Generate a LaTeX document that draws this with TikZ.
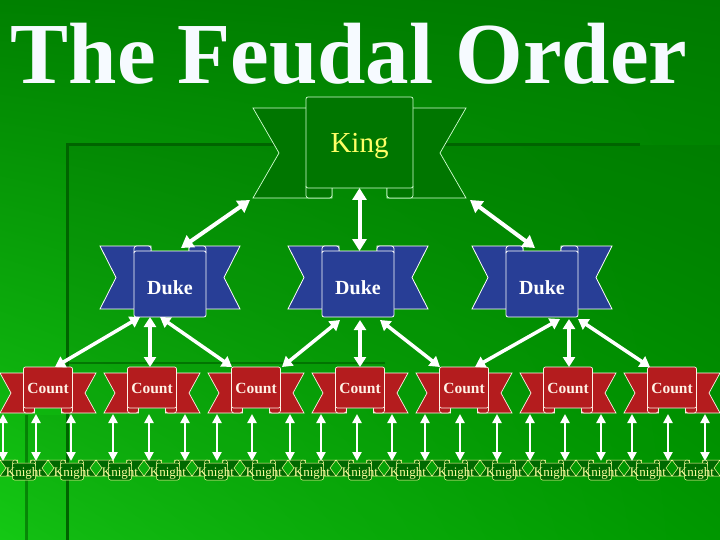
\documentclass[tikz,border=0pt]{standalone}
\usepackage{fontspec}
\setmainfont{Liberation Serif}
\usetikzlibrary{arrows.meta,calc,shadings}
\definecolor{bgUL}{RGB}{0,128,0}
\definecolor{bgUR}{RGB}{0,122,0}
\definecolor{bgLL}{RGB}{20,200,20}
\definecolor{bgLR}{RGB}{0,160,0}
\definecolor{edgeDark}{RGB}{0,100,0}
\definecolor{kingFill}{RGB}{0,118,0}
\definecolor{kingLine}{RGB}{210,255,210}
\definecolor{kingText}{RGB}{255,255,102}
\definecolor{dukeFill}{RGB}{40,62,150}
\definecolor{countFill}{RGB}{180,28,30}
\definecolor{countText}{RGB}{255,242,230}
\definecolor{knightFill}{RGB}{0,105,0}
\definecolor{knightLine}{RGB}{255,255,160}
\definecolor{titleText}{RGB}{246,250,255}

\newcommand\setdims[8]{\def\ra{#1}\def\rtw{#2}\def\rd{#3}\def\rc{#4}\def\ryT{#5}\def\ryB{#6}\def\rtT{#7}\def\rtB{#8}}
\newcommand\ribtails[1]{%
  \filldraw[ribstyle] ({#1-\ra-\rtw},\rtT) -- ({#1-\ra+\rc},\rtT) -- ({#1-\ra+\rc},\rtB) -- ({#1-\ra-\rtw},\rtB) -- ({#1-\ra-\rtw+\rd},{(\rtT+\rtB)/2}) -- cycle;
  \filldraw[ribstyle] ({#1+\ra+\rtw},\rtT) -- ({#1+\ra-\rc},\rtT) -- ({#1+\ra-\rc},\rtB) -- ({#1+\ra+\rtw},\rtB) -- ({#1+\ra+\rtw-\rd},{(\rtT+\rtB)/2}) -- cycle;
}
\newcommand\ribdown[3]{%
  \ribtails{#2}
  \filldraw[ribstyle, rounded corners=2.5pt] ({#2-\ra},{\ryB-4}) rectangle ({#2-\ra+\rc},\rtB);
  \filldraw[ribstyle, rounded corners=2.5pt] ({#2+\ra-\rc},{\ryB-4}) rectangle ({#2+\ra},\rtB);
  \node[ribpanel, minimum width=2*\ra pt, minimum height=(\ryB-\ryT)*1pt] (#1) at ({#2},{(\ryT+\ryB)/2}) {\makebox[0pt]{#3}};
}
\newcommand\ribup[3]{%
  \ribtails{#2}
  \filldraw[ribstyle, rounded corners=2.5pt] ({#2-\ra},\rtT) rectangle ({#2-\ra+\rc},{\ryT+4});
  \filldraw[ribstyle, rounded corners=2.5pt] ({#2+\ra-\rc},\rtT) rectangle ({#2+\ra},{\ryT+4});
  \node[ribpanel, minimum width=2*\ra pt, minimum height=(\ryB-\ryT)*1pt] (#1) at ({#2},{(\ryT+\ryB)/2}) {\makebox[0pt]{#3}};
}

\tikzset{
  ribpanel/.style={ribstyle, ribtext, rounded corners=2pt, inner sep=0pt, outer sep=0pt, text depth=0pt},
  kingrib/.style={fill=kingFill, draw=kingLine, line width=0.7pt},
  kingtxt/.style={font=\fontsize{29}{29}\selectfont, text=kingText, text height=21pt},
  dukerib/.style={fill=dukeFill, draw=white, line width=0.8pt},
  duketxt/.style={font=\fontsize{20}{20}\selectfont\bfseries, text=white, text height=20pt},
  countrib/.style={fill=countFill, draw=countText, line width=0.7pt},
  counttxt/.style={font=\fontsize{15.5}{15.5}\selectfont\bfseries, text=countText, text height=11pt},
  knightrib/.style={fill=knightFill, draw=knightLine, line width=0.5pt},
  knighttxt/.style={font=\fontsize{13}{13}\selectfont, text=knightLine, text height=9pt},
  arrowA/.style={draw=white, line width=4pt, {Triangle[width=14pt,length=12pt]}-{Triangle[width=14pt,length=12pt]}},
  arrowB/.style={draw=white, line width=3.5pt, {Triangle[width=12pt,length=10pt]}-{Triangle[width=12pt,length=10pt]}},
  arrowK/.style={draw=white, line width=2.8pt, {Triangle[width=9pt,length=9pt]}-{Triangle[width=9pt,length=9pt]}},
  titletxt/.style={font=\fontsize{87}{87}\selectfont\bfseries, anchor=base, inner sep=0pt}
}

\begin{document}
\begin{tikzpicture}[x=1pt,y=-1pt]
\useasboundingbox (0,0) rectangle (720,540);
\clip (0,0) rectangle (720,540);
% background
\shade[upper left=bgUL, upper right=bgUR, lower left=bgLL, lower right=bgLR] (0,0) rectangle (720,540);
\fill[black, opacity=0.05] (67,145) rectangle (720,540);
\fill[black, opacity=0.04] (26,415) rectangle (67,540);
\draw[edgeDark, line width=3pt] (67,540) -- (67,145) -- (640,145);
\draw[edgeDark, line width=2pt, opacity=0.7] (67,363) -- (385,363);
\draw[edgeDark, line width=3pt, opacity=0.6] (26,415) -- (26,540);

% title
\node[titletxt, text=titleText] (title) at (349,84) {The Feudal Order};

% King
\tikzset{ribstyle/.style={kingrib}, ribtext/.style={kingtxt}}
\setdims{53.5}{53}{26}{26}{97}{188}{108}{198}
\ribdown{king}{359.5}{King}

% Dukes
\tikzset{ribstyle/.style={dukerib}, ribtext/.style={duketxt}}
\setdims{36}{34}{16}{17}{251}{317}{246}{309}
\ribup{duke1}{170}{Duke}
\ribup{duke2}{358}{Duke}
\ribup{duke3}{542}{Duke}

% Counts
\tikzset{ribstyle/.style={countrib}, ribtext/.style={counttxt}}
\setdims{24.5}{23.5}{11}{11}{367}{408}{373}{413}
\foreach \i in {1,...,7}{
  \ribdown{count\i}{48+104*(\i-1)}{Count}
}

% Knights
\tikzset{ribstyle/.style={knightrib}, ribtext/.style={knighttxt}}
\setdims{11.5}{12.5}{6}{5}{463}{480}{460}{476}
\foreach \i in {0,...,14}{
  \ribup{knight\i}{24+48*\i}{Knight}
}

% arrow end points
\coordinate (kL) at (250,200);
\coordinate (kR) at (470,200);
\coordinate (d1T) at (181,248);
\coordinate (d3T) at (535,248);

% King - Dukes
\draw[arrowA] (kL) -- (d1T);
\draw[arrowA] (king.south) -- (king.south |- duke2.north);
\draw[arrowA] (kR) -- (d3T);

% Dukes - Counts
\draw[arrowB] ([xshift=-30pt]duke1.south) -- ([xshift=7pt]count1.north);
\draw[arrowB] ([xshift=-20pt]duke1.south) -- ([xshift=-20pt]duke1.south |- count2.north);
\draw[arrowB] ([xshift=-10pt]duke1.south) -- ([xshift=-24pt]count3.north);
\draw[arrowB] ([xshift=-18pt,yshift=-3pt]duke2.south) -- ([xshift=26pt]count3.north);
\draw[arrowB] ([xshift=2pt,yshift=-3pt]duke2.south) -- ([xshift=2pt]duke2.south |- count4.north);
\draw[arrowB] ([xshift=22pt,yshift=-3pt]duke2.south) -- ([xshift=-24pt]count5.north);
\draw[arrowB] ([xshift=18pt,yshift=-2pt]duke3.south) -- ([xshift=11pt]count5.north);
\draw[arrowB] ([xshift=27pt,yshift=-2pt]duke3.south) -- ([xshift=27pt]duke3.south |- count6.north);
\draw[arrowB] ([xshift=36pt,yshift=-2pt]duke3.south) -- ([xshift=-22pt]count7.north);

% Counts - Knights
\foreach \x in {3,36,71,113,149,185,217,252,290,321,357,392,425,460,497,530,565,601,632,668,705}{
  \draw[arrowK] (\x,414) -- (\x,461);
}
\end{tikzpicture}
\end{document}
